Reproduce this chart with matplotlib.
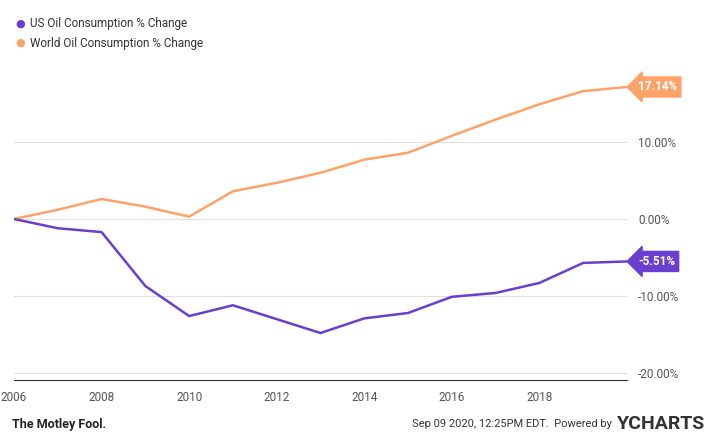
import matplotlib.pyplot as plt

years = list(range(2006, 2021))
us = [0, -1.2, -1.7, -8.7, -12.6, -11.2, -13.0, -14.8, -12.9, -12.2, -10.1, -9.6, -8.3, -5.7, -5.51]
world = [0, 1.2, 2.6, 1.6, 0.3, 3.6, 4.7, 6.0, 7.7, 8.6, 10.8, 12.9, 14.9, 16.6, 17.14]
us_col = '#6a3fd0'
w_col = '#fca369'

plt.rcParams['font.family'] = ['Roboto', 'DejaVu Sans']
fig = plt.figure(figsize=(7.28, 4.44), dpi=100)
ax = fig.add_axes([14/728, 1-380/444, (627-14)/728, (380-58)/444])
ax.plot(years, world, color=w_col, lw=1.8)
ax.plot(years, us, color=us_col, lw=1.8)
ax.set_xlim(2006, 2020)
ax.set_ylim(-20.9, 20.9)
ax.set_xticks([2006, 2008, 2010, 2012, 2014, 2016, 2018])
ax.set_yticks([-20, -10, 0, 10])
ax.set_yticklabels(['-20.00%', '-10.00%', '0.00%', '10.00%'])
ax.yaxis.tick_right()
ax.tick_params(length=0, labelsize=8.5, colors='#555555', pad=8)
ax.grid(axis='y', color='#e0e0e0', lw=0.8)
for s in ['top', 'left', 'right']:
    ax.spines[s].set_visible(False)
ax.spines['bottom'].set_color('#333333')
for v, c in [(world[-1], w_col), (us[-1], us_col)]:
    ax.annotate(f'{v:.2f}%', (1, v), xycoords=('axes fraction', 'data'), xytext=(8, 0),
                textcoords='offset points', va='center', ha='left', color='white',
                fontsize=8.5, fontweight='bold',
                bbox=dict(boxstyle='larrow,pad=0.3', fc=c, ec=c))

fig.text(15/728, 1-24/444, '●', color=us_col, fontsize=8, va='center')
fig.text(30/728, 1-24/444, 'US Oil Consumption % Change', fontsize=8.5, va='center', color='#333333')
fig.text(15/728, 1-43/444, '●', color=w_col, fontsize=8, va='center')
fig.text(30/728, 1-43/444, 'World Oil Consumption % Change', fontsize=8.5, va='center', color='#333333')
fig.text(12/728, 1-424/444, 'The Motley Fool.', fontsize=9, fontweight='bold', va='center', color='#222222')
fig.text(612/728, 1-424/444, 'Sep 09 2020, 12:25PM EDT.  Powered by', fontsize=8, va='center',
         ha='right', color='#333333')
fig.text(617/728, 1-424/444, 'YCHARTS', fontsize=14, fontweight='bold', va='center', color='#333333')
fig.savefig('out.png')
